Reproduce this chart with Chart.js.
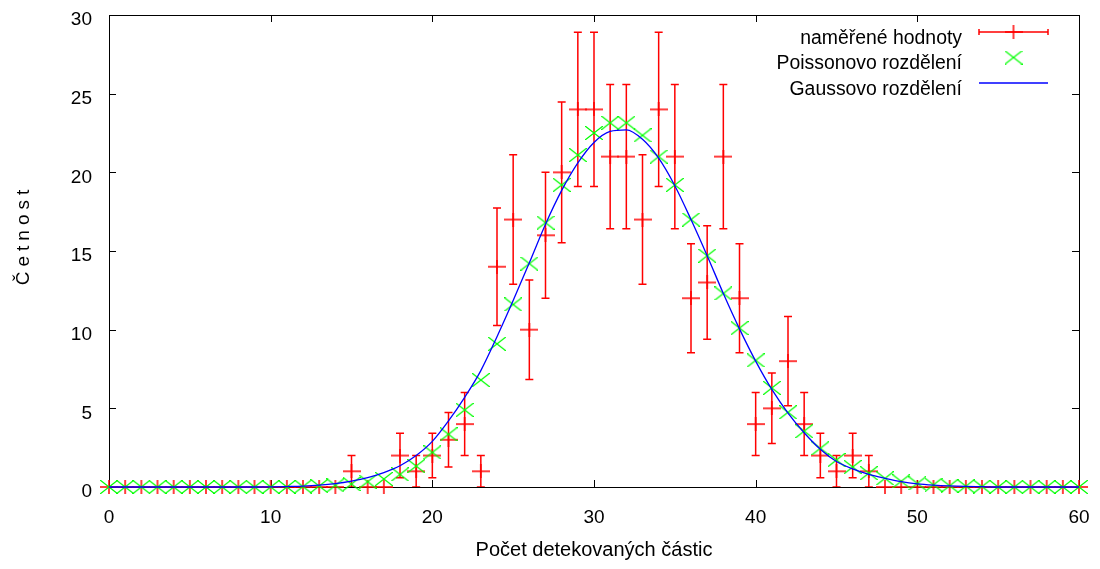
<!DOCTYPE html>
<html>
<head>
<meta charset="utf-8">
<script src="https://cdn.jsdelivr.net/npm/chart.js@4"></script>
<style>
  body { margin: 0; background: #fff; }
  canvas { display: block; }
</style>
</head>
<body>
<canvas id="graf" width="1100" height="569"></canvas>
<script>
// pocet detekovanych castic (osa x)
const pocty = [0,1,2,3,4,5,6,7,8,9,10,11,12,13,14,15,16,17,18,19,20,21,22,23,24,25,26,27,28,29,30,
  31,32,33,34,35,36,37,38,39,40,41,42,43,44,45,46,47,48,49,50,51,52,53,54,55,56,57,58,59,60];

// namerene cetnosti
const namerene = [0,0,0,0,0,0,0,0,0,0,0,0,0,0,0,1,0,0,2,1,2,3,4,1,14,17,10,16,20,24,24,
  21,21,17,24,21,12,13,21,12,4,5,8,4,2,1,2,1,0,0,0,0,0,0,0,0,0,0,0,0,0];

// delka chybovych usecek
const chyby = [0,0,0,0,0,0,0,0,0,0,0,0,0,0,0,1,0,0,1.41,1,1.41,1.73,2,1,3.74,4.12,3.16,4,4.47,4.9,4.9,
  4.58,4.58,4.12,4.9,4.58,3.46,3.61,4.58,3.46,2,2.24,2.83,2,1.41,1,1.41,1,0,0,0,0,0,0,0,0,0,0,0,0,0];

// Poissonovo rozdeleni
const poisson = [0,0,0,0,0,0,0,0,0,0,0,0,0.03,0.06,0.1,0.19,0.34,0.51,0.8,1.33,2.2,3.35,4.9,6.8,9.1,11.6,14.2,16.8,19.2,21.1,22.5,
  23.15,23.15,22.35,21.0,19.2,17.0,14.7,12.3,10.1,8.05,6.3,4.75,3.55,2.46,1.72,1.27,0.88,0.55,0.36,0.23,0.14,0.08,0.05,0.03,0,0,0,0,0,0];

// Gaussovo rozdeleni
const gauss = [0,0,0,0,0,0,0,0,0,0,0.01,0.03,0.06,0.12,0.22,0.38,0.6,0.92,1.35,2.0,2.9,4.2,5.7,7.4,9.55,11.85,14.25,16.7,18.85,20.6,21.9,
  22.6,22.7,22.1,20.9,19.15,17.0,14.7,12.3,10.05,8.0,6.2,4.7,3.45,2.4,1.62,1.15,0.8,0.55,0.34,0.2,0.12,0.07,0.04,0.02,0,0,0,0,0,0];

const xTicks = [0, 10, 20, 30, 40, 50, 60];
const yTicks = [0, 5, 10, 15, 20, 25, 30];
const popisky = ['naměřené hodnoty', 'Poissonovo rozdělení', 'Gaussovo rozdělení'];

const CERVENA = 'rgb(255,0,0)';
const ZELENA = 'rgb(0,255,0)';
const MODRA = 'rgb(0,0,255)';
const PISMO = "'Liberation Sans', Arial, sans-serif";

// znacky bodu jako male platno
function znacka(kresli, w, h) {
  const c = document.createElement('canvas');
  c.width = w; c.height = h;
  kresli(c.getContext('2d'), w, h);
  return c;
}
const plus = znacka((g, w, h) => {
  g.strokeStyle = CERVENA; g.lineWidth = 1.5;
  g.beginPath();
  g.moveTo(0, h / 2); g.lineTo(w, h / 2);
  g.moveTo(w / 2, 0); g.lineTo(w / 2, h);
  g.stroke();
}, 18, 14);
const krizek = znacka((g, w, h) => {
  g.strokeStyle = ZELENA; g.lineWidth = 1.3;
  g.beginPath();
  g.moveTo(0, 0); g.lineTo(w, h);
  g.moveTo(w, 0); g.lineTo(0, h);
  g.stroke();
}, 18, 14);

// chybove usecky
const chybyPlugin = {
  id: 'chyby',
  beforeDatasetsDraw(chart) {
    const {ctx} = chart;
    const sx = chart.scales.x, sy = chart.scales.y;
    ctx.save();
    ctx.strokeStyle = CERVENA;
    ctx.lineWidth = 1.5;
    namerene.forEach((v, i) => {
      const e = chyby[i];
      if (!e) return;
      const px = sx.getPixelForValue(pocty[i]);
      const y1 = sy.getPixelForValue(v - e), y2 = sy.getPixelForValue(v + e);
      ctx.beginPath();
      ctx.moveTo(px, y1); ctx.lineTo(px, y2);
      ctx.moveTo(px - 4, y1); ctx.lineTo(px + 4, y1);
      ctx.moveTo(px - 4, y2); ctx.lineTo(px + 4, y2);
      ctx.stroke();
    });
    ctx.restore();
  }
};

// ramecek s vnitrnimi carkami
const ramecekPlugin = {
  id: 'ramecek',
  beforeDatasetsDraw(chart) {
    const {ctx, chartArea: a} = chart;
    const sx = chart.scales.x, sy = chart.scales.y;
    ctx.save();
    ctx.strokeStyle = '#000';
    ctx.lineWidth = 1;
    ctx.strokeRect(Math.round(a.left) + 0.5, Math.round(a.top) + 0.5,
      Math.round(a.right - a.left), Math.round(a.bottom - a.top));
    ctx.beginPath();
    xTicks.forEach(t => {
      const px = Math.round(sx.getPixelForValue(t)) + 0.5;
      ctx.moveTo(px, a.bottom); ctx.lineTo(px, a.bottom - 7);
      ctx.moveTo(px, a.top); ctx.lineTo(px, a.top + 7);
    });
    yTicks.forEach(t => {
      const py = Math.round(sy.getPixelForValue(t)) + 0.5;
      ctx.moveTo(a.left, py); ctx.lineTo(a.left + 7, py);
      ctx.moveTo(a.right, py); ctx.lineTo(a.right - 7, py);
    });
    ctx.stroke();
    ctx.restore();
  },
  afterDraw(chart) {
    const {ctx} = chart;
    // popis osy y s prostrkanymi pismeny
    ctx.save();
    ctx.font = '19px ' + PISMO;
    ctx.fillStyle = '#000';
    ctx.translate(24, 235);
    ctx.rotate(-Math.PI / 2);
    ctx.letterSpacing = '5px';
    ctx.textAlign = 'center';
    ctx.textBaseline = 'middle';
    ctx.fillText('Četnost', 0, 0);
    ctx.restore();

    // legenda
    ctx.save();
    ctx.font = '19.4px ' + PISMO;
    ctx.fillStyle = '#000';
    ctx.textAlign = 'right';
    ctx.textBaseline = 'alphabetic';
    const x0 = 979, x1 = 1048, xm = (x0 + x1) / 2;
    const radky = [32, 57.5, 83];
    popisky.forEach((t, i) => ctx.fillText(t, 962, radky[i] + 11.5));
    ctx.lineWidth = 1.5;
    ctx.strokeStyle = CERVENA;
    ctx.beginPath();
    ctx.moveTo(x0, radky[0]); ctx.lineTo(x1, radky[0]);
    ctx.moveTo(x0, radky[0] - 3); ctx.lineTo(x0, radky[0] + 3);
    ctx.moveTo(x1, radky[0] - 3); ctx.lineTo(x1, radky[0] + 3);
    ctx.stroke();
    ctx.drawImage(plus, xm - 9, radky[0] - 7);
    ctx.drawImage(krizek, xm - 9, radky[1] - 7);
    ctx.strokeStyle = MODRA;
    ctx.lineWidth = 1.3;
    ctx.beginPath();
    ctx.moveTo(x0, radky[2]); ctx.lineTo(x1, radky[2]);
    ctx.stroke();
    ctx.restore();
  }
};

const body = arr => arr.map((v, i) => ({x: pocty[i], y: v}));

new Chart(document.getElementById('graf'), {
  type: 'scatter',
  data: {
    datasets: [
      {
        label: popisky[0],
        data: body(namerene),
        pointStyle: plus,
        pointRadius: 9,
        order: 3,
        clip: false
      },
      {
        label: popisky[1],
        data: body(poisson),
        pointStyle: krizek,
        pointRadius: 9,
        order: 2,
        clip: false
      },
      {
        label: popisky[2],
        data: body(gauss),
        showLine: true,
        borderColor: MODRA,
        borderWidth: 1.3,
        pointRadius: 0,
        cubicInterpolationMode: 'monotone',
        order: 1,
        clip: false
      }
    ]
  },
  options: {
    responsive: false,
    devicePixelRatio: 1,
    animation: false,
    layout: { padding: { left: 0, top: 15, right: 21, bottom: 0 } },
    plugins: {
      legend: { display: false },
      tooltip: { enabled: false }
    },
    scales: {
      x: {
        type: 'linear',
        min: 0,
        max: 60,
        afterBuildTicks: s => { s.ticks = xTicks.map(v => ({value: v})); },
        afterFit: s => { s.height = 82; s.paddingLeft = 0; s.paddingRight = 0; },
        grid: { display: false, drawTicks: false },
        border: { display: false },
        ticks: { padding: 19, color: '#000', font: { family: PISMO, size: 19 } },
        title: {
          display: true,
          text: 'Počet detekovaných částic',
          color: '#000',
          font: { family: PISMO, size: 20 },
          padding: { top: 0, bottom: 7 }
        }
      },
      y: {
        type: 'linear',
        min: 0,
        max: 30,
        afterBuildTicks: s => { s.ticks = yTicks.map(v => ({value: v})); },
        afterFit: s => { s.width = 109; s.paddingTop = 0; s.paddingBottom = 0; },
        grid: { display: false, drawTicks: false },
        border: { display: false },
        ticks: { padding: 17, labelOffset: 5, color: '#000', font: { family: PISMO, size: 19 } }
      }
    }
  },
  plugins: [chybyPlugin, ramecekPlugin]
});
</script>
</body>
</html>
